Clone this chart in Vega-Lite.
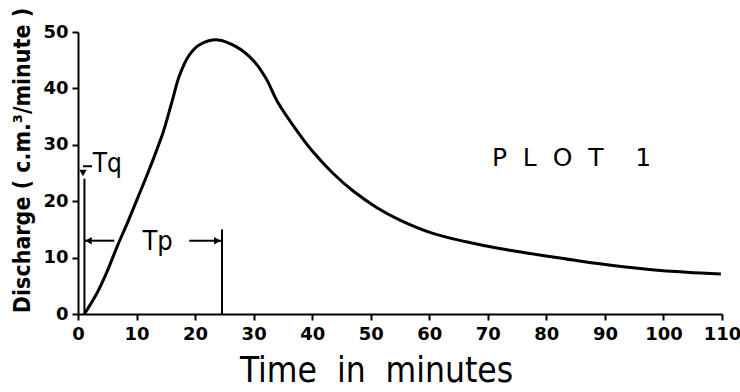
{
  "$schema": "https://vega.github.io/schema/vega-lite/v6.json",
  "autosize": "none",
  "width": 644,
  "height": 282,
  "padding": {"left": 78, "top": 32, "right": 18, "bottom": 78},
  "background": "white",
  "config": {
    "view": {"stroke": null},
    "axis": {
      "grid": false,
      "domainColor": "black",
      "domainWidth": 2,
      "tickColor": "black",
      "tickWidth": 2,
      "tickSize": 6,
      "labelColor": "black",
      "titleColor": "black",
      "labelFont": "DejaVu Sans",
      "labelFontWeight": "bold",
      "labelFontSize": 18
    }
  },
  "datasets": {
    "curve": [
      {"t": 1.1, "q": 0},
      {"t": 3.3, "q": 3.8},
      {"t": 5.0, "q": 7.6},
      {"t": 6.7, "q": 12.0},
      {"t": 8.5, "q": 16.3},
      {"t": 10.2, "q": 20.6},
      {"t": 11.9, "q": 24.9},
      {"t": 13.6, "q": 29.5},
      {"t": 14.6, "q": 32.4},
      {"t": 16.2, "q": 38.2},
      {"t": 17.3, "q": 42.2},
      {"t": 19.0, "q": 45.9},
      {"t": 20.7, "q": 47.7},
      {"t": 23.9, "q": 48.6},
      {"t": 27.0, "q": 47.4},
      {"t": 29.9, "q": 45.0},
      {"t": 32.1, "q": 41.8},
      {"t": 34.1, "q": 37.6},
      {"t": 37.8, "q": 31.9},
      {"t": 40.1, "q": 28.8},
      {"t": 43.5, "q": 25.0},
      {"t": 47.0, "q": 21.8},
      {"t": 51.0, "q": 18.9},
      {"t": 54.9, "q": 16.7},
      {"t": 60.6, "q": 14.3},
      {"t": 66.3, "q": 12.8},
      {"t": 72.0, "q": 11.6},
      {"t": 80.5, "q": 10.2},
      {"t": 89.1, "q": 8.9},
      {"t": 97.6, "q": 7.9},
      {"t": 104.0, "q": 7.4},
      {"t": 109.8, "q": 7.1}
    ],
    "vrules": [
      {"t": 1.1, "q0": 0, "q1": 24},
      {"t": 24.6, "q0": 0, "q1": 15}
    ],
    "hrules": [
      {"t0": 1.1, "t1": 6.2, "q": 13},
      {"t0": 19.0, "t1": 24.5, "q": 13},
      {"t0": 0.85, "t1": 2.4, "q": 26.2}
    ],
    "heads": [
      {"t": 1.8, "q": 13, "dir": "triangle-left"},
      {"t": 23.8, "q": 13, "dir": "triangle-right"},
      {"t": 0.85, "q": 25.0, "dir": "triangle-down"}
    ],
    "tq": [
      {"t": 2.5, "q": 25.2, "label": "Tq"}
    ],
    "tp": [
      {"t": 13.6, "q": 11.4, "label": "Tp"}
    ],
    "plot": [
      {"t": 84.3, "q": 27.6, "label": "P\u00a0\u00a0L\u00a0\u00a0O\u00a0\u00a0T\u00a0\u00a0\u00a0\u00a01"}
    ]
  },
  "layer": [
    {
      "data": {"name": "curve"},
      "mark": {"type": "line", "color": "black", "strokeWidth": 3, "interpolate": "catmull-rom"},
      "encoding": {
        "x": {
          "field": "t", "type": "quantitative",
          "scale": {"domain": [0, 110], "nice": false},
          "axis": {
            "values": [0, 10, 20, 30, 40, 50, 60, 70, 80, 90, 100, 110],
            "title": "Time\u00a0\u00a0in\u00a0\u00a0minutes",
            "titleFont": "DejaVu Sans Condensed",
            "titleFontSize": 35,
            "titleFontWeight": "normal",
            "titleX": 298,
            "titleY": 67,
            "titleBaseline": "alphabetic",
            "labelPadding": 5,
            "labelFlush": false
          }
        },
        "y": {
          "field": "q", "type": "quantitative",
          "scale": {"domain": [0, 50], "nice": false},
          "axis": {
            "values": [0, 10, 20, 30, 40, 50],
            "title": "Discharge ( c.m.\u00b3/minute )",
            "titleFont": "DejaVu Sans Condensed",
            "titleFontSize": 23,
            "titleFontWeight": "bold",
            "titleX": -56,
            "titleY": 128,
            "titleBaseline": "middle",
            "labelPadding": 4,
            "labelFlush": false
          }
        }
      }
    },
    {
      "data": {"name": "vrules"},
      "mark": {"type": "rule", "color": "black", "strokeWidth": 2},
      "encoding": {
        "x": {"field": "t", "type": "quantitative"},
        "y": {"field": "q0", "type": "quantitative"},
        "y2": {"field": "q1"}
      }
    },
    {
      "data": {"name": "hrules"},
      "mark": {"type": "rule", "color": "black", "strokeWidth": 2},
      "encoding": {
        "x": {"field": "t0", "type": "quantitative"},
        "x2": {"field": "t1"},
        "y": {"field": "q", "type": "quantitative"}
      }
    },
    {
      "data": {"name": "heads"},
      "mark": {"type": "point", "filled": true, "color": "black", "size": 55, "opacity": 1},
      "encoding": {
        "x": {"field": "t", "type": "quantitative"},
        "y": {"field": "q", "type": "quantitative"},
        "shape": {"field": "dir", "type": "nominal", "scale": null, "legend": null}
      }
    },
    {
      "data": {"name": "tq"},
      "mark": {"type": "text", "font": "DejaVu Sans Condensed", "fontSize": 26, "color": "black", "align": "left", "baseline": "alphabetic"},
      "encoding": {
        "x": {"field": "t", "type": "quantitative"},
        "y": {"field": "q", "type": "quantitative"},
        "text": {"field": "label"}
      }
    },
    {
      "data": {"name": "tp"},
      "mark": {"type": "text", "font": "DejaVu Sans Condensed", "fontSize": 27, "color": "black", "align": "center", "baseline": "alphabetic"},
      "encoding": {
        "x": {"field": "t", "type": "quantitative"},
        "y": {"field": "q", "type": "quantitative"},
        "text": {"field": "label"}
      }
    },
    {
      "data": {"name": "plot"},
      "mark": {"type": "text", "font": "DejaVu Sans", "fontSize": 25, "color": "black", "align": "center", "baseline": "middle"},
      "encoding": {
        "x": {"field": "t", "type": "quantitative"},
        "y": {"field": "q", "type": "quantitative"},
        "text": {"field": "label"}
      }
    }
  ]
}
